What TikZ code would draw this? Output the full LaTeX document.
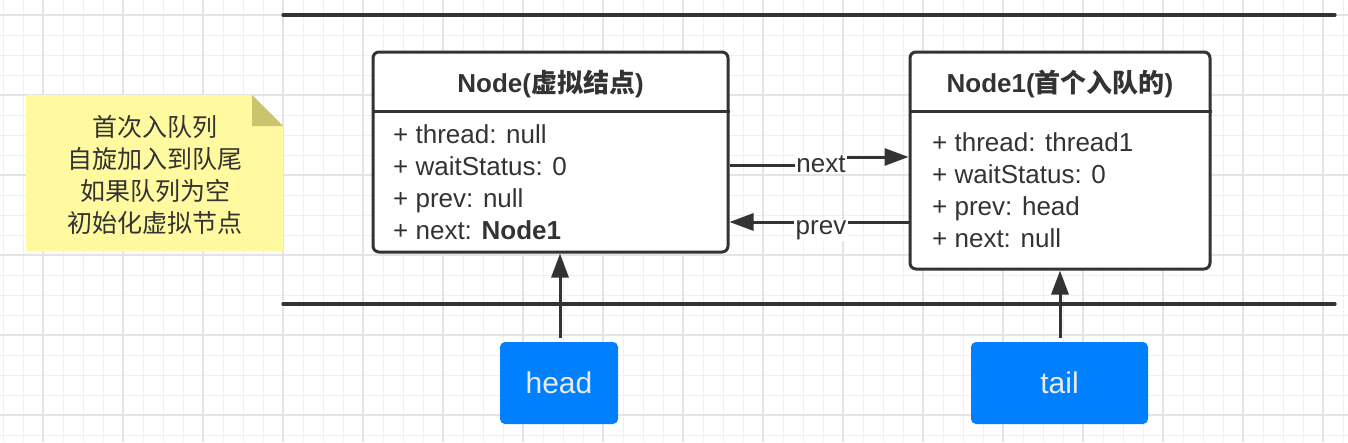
\documentclass[tikz,border=0pt]{standalone}
\usepackage{fontspec}
\setmainfont{Liberation Sans}
\newfontfamily\cjk{Noto Sans CJK SC}
\usetikzlibrary{arrows.meta}
\definecolor{ink}{HTML}{333333}
\definecolor{gridminor}{HTML}{F0F0F0}
\definecolor{gridmajor}{HTML}{E4E4E4}
\definecolor{noteyellow}{HTML}{FFFA9F}
\definecolor{notefold}{HTML}{C9C56C}
\definecolor{boxblue}{HTML}{007FFF}
\definecolor{boxtext}{HTML}{EAEAEA}
\tikzset{
  umlbox/.style={draw=ink, line width=3pt, rounded corners=6pt, fill=white, inner sep=0pt},
  fld/.style={text=ink, font=\fontsize{26}{26}\selectfont, anchor=base west, inner sep=0pt},
  ttl/.style={text=ink, font=\bfseries\fontsize{26}{26}\selectfont, anchor=base, inner sep=0pt},
  ptr/.style={fill=boxblue, rounded corners=5pt, text=boxtext, font=\fontsize{30}{30}\selectfont, inner sep=0pt},
  conn/.style={draw=ink, line width=3pt, -{Triangle[length=24pt,width=17pt]}},
  lbl/.style={fill=white, text=ink, font=\fontsize{26}{26}\selectfont, anchor=base, inner sep=1.5pt},
  rail/.style={draw=ink, line width=3.2pt, line cap=round},
  notetext/.style={text=ink, align=center, font=\cjk\fontsize{25}{32}\selectfont, inner sep=0pt}
}
\begin{document}
\begin{tikzpicture}[x=1pt,y=-1pt]
\useasboundingbox (0,0) rectangle (1348,442);
\fill[white] (0,0) rectangle (1348,442);
% grid
\foreach \x in {3,23,...,1343} \draw[gridminor, line width=1pt] (\x,0) -- (\x,442);
\foreach \y in {15,35,...,435} \draw[gridminor, line width=1pt] (0,\y) -- (1348,\y);
\foreach \x in {43,123,...,1323} \draw[gridmajor, line width=1.4pt] (\x,0) -- (\x,442);
\foreach \y in {15,95,...,415} \draw[gridmajor, line width=1.4pt] (0,\y) -- (1348,\y);
% rails
\coordinate (r1a) at (283,15);
\coordinate (r1b) at (1335,15);
\coordinate (r2a) at (283,304);
\coordinate (r2b) at (1335,304);
\draw[rail] (r1a) -- (r1b);
\draw[rail] (r2a) -- (r2b);
% note
\fill[noteyellow] (26,95) -- (252,95) -- (283,126) -- (283,251) -- (26,251) -- cycle;
\fill[notefold] (252,95) -- (252,126) -- (283,126) -- cycle;
\node[notetext] (note) at (155,175) {首次入队列\\自旋加入到队尾\\如果队列为空\\初始化虚拟节点};
% uml boxes
\node[umlbox, minimum width=355pt, minimum height=200pt] (n0) at (550.5,152) {};
\node[umlbox, minimum width=300pt, minimum height=217pt] (n1) at (1060,160.5) {};
\draw[ink, line width=3pt] (n0.west |- 0,111) -- (n0.east |- 0,111);
\draw[ink, line width=3pt] (n1.west |- 0,111) -- (n1.east |- 0,111);
\node[ttl] (t0) at (550.5,92) {Node({\cjk 虚拟结点})};
\node[ttl] (t1) at (1060,92) {Node1({\cjk 首个入队的})};
\node[fld] (f01) at (393,143) {+ thread: null};
\node[fld] (f02) at (393,175) {+ waitStatus: 0};
\node[fld] (f03) at (393,207) {+ prev: null};
\node[fld] (f04) at (393,239) {+ next: \textbf{Node1}};
\node[fld] (f11) at (932,151) {+ thread: thread1};
\node[fld] (f12) at (932,183) {+ waitStatus: 0};
\node[fld] (f13) at (932,215) {+ prev: head};
\node[fld] (f14) at (932,247) {+ next: null};
% head / tail
\node[ptr, minimum width=118pt, minimum height=82pt] (hd) at (559,383) {head};
\node[ptr, minimum width=177pt, minimum height=82pt] (tl) at (1059.5,383) {tail};
% connectors
\draw[conn] ([yshift=-13pt]n0.east) -- ++(92,0) |- ([yshift=3.5pt]n1.west);
\draw[conn] ([yshift=-61.5pt]n1.west) -- ([yshift=-70pt]n0.east);
\node[lbl] (lnext) at (821,172.5) {next};
\node[lbl] (lprev) at (821,234) {prev};
\draw[conn] ([xshift=1pt,yshift=4pt]hd.north) -- ([xshift=1pt]hd.north |- n0.south);
\draw[conn] ([xshift=0.5pt,yshift=4pt]tl.north) -- ([xshift=0.5pt]tl.north |- n1.south);
\end{tikzpicture}
\end{document}
